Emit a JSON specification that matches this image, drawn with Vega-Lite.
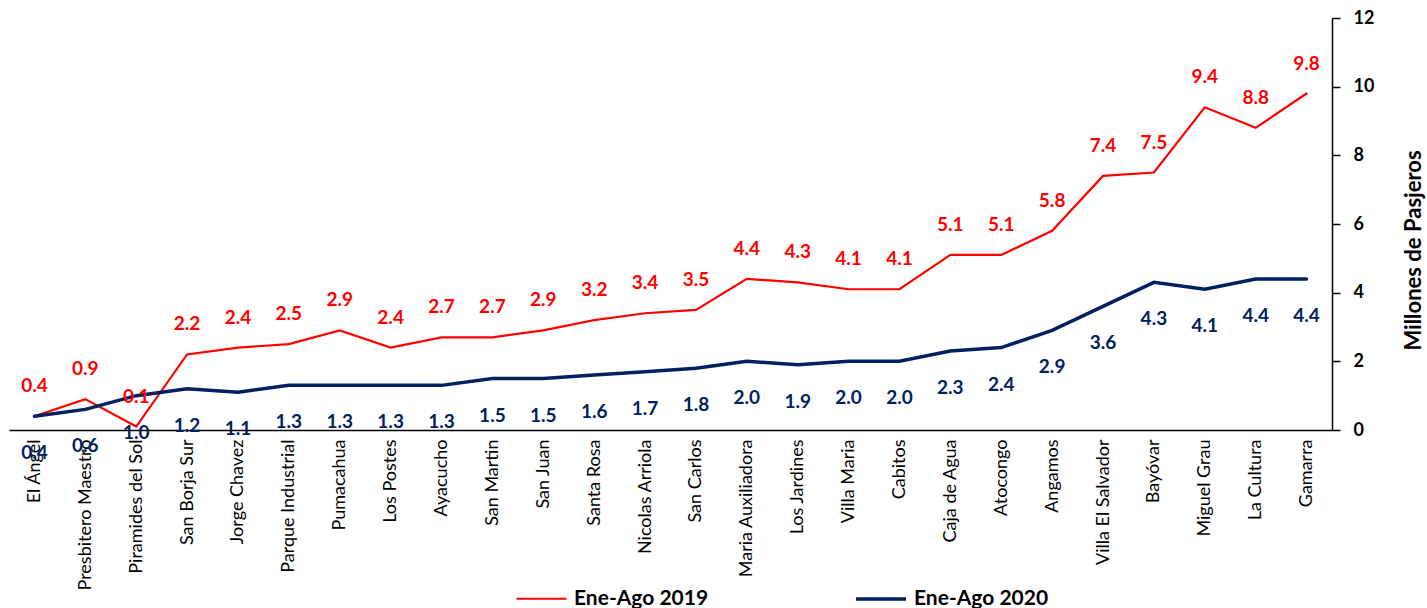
{
  "$schema": "https://vega.github.io/schema/vega-lite/v6.json",
  "width": 1323,
  "height": 412,
  "autosize": {"type": "none"},
  "padding": {"left": 9, "top": 18, "right": 95, "bottom": 178},
  "background": "white",
  "config": {
    "font": "Lato",
    "view": {"stroke": null},
    "axis": {"grid": false}
  },
  "data": {
    "values": [
      {"estacion": "El Ángel", "serie": "Ene-Ago 2019", "valor": 0.4},
      {"estacion": "Presbitero Maestro", "serie": "Ene-Ago 2019", "valor": 0.9},
      {"estacion": "Piramides del Sol", "serie": "Ene-Ago 2019", "valor": 0.1},
      {"estacion": "San Borja Sur", "serie": "Ene-Ago 2019", "valor": 2.2},
      {"estacion": "Jorge Chavez", "serie": "Ene-Ago 2019", "valor": 2.4},
      {"estacion": "Parque Industrial", "serie": "Ene-Ago 2019", "valor": 2.5},
      {"estacion": "Pumacahua", "serie": "Ene-Ago 2019", "valor": 2.9},
      {"estacion": "Los Postes", "serie": "Ene-Ago 2019", "valor": 2.4},
      {"estacion": "Ayacucho", "serie": "Ene-Ago 2019", "valor": 2.7},
      {"estacion": "San Martin", "serie": "Ene-Ago 2019", "valor": 2.7},
      {"estacion": "San Juan", "serie": "Ene-Ago 2019", "valor": 2.9},
      {"estacion": "Santa Rosa", "serie": "Ene-Ago 2019", "valor": 3.2},
      {"estacion": "Nicolas Arriola", "serie": "Ene-Ago 2019", "valor": 3.4},
      {"estacion": "San Carlos", "serie": "Ene-Ago 2019", "valor": 3.5},
      {"estacion": "Maria Auxiliadora", "serie": "Ene-Ago 2019", "valor": 4.4},
      {"estacion": "Los Jardines", "serie": "Ene-Ago 2019", "valor": 4.3},
      {"estacion": "Villa Maria", "serie": "Ene-Ago 2019", "valor": 4.1},
      {"estacion": "Cabitos", "serie": "Ene-Ago 2019", "valor": 4.1},
      {"estacion": "Caja de Agua", "serie": "Ene-Ago 2019", "valor": 5.1},
      {"estacion": "Atocongo", "serie": "Ene-Ago 2019", "valor": 5.1},
      {"estacion": "Angamos", "serie": "Ene-Ago 2019", "valor": 5.8},
      {"estacion": "Villa El Salvador", "serie": "Ene-Ago 2019", "valor": 7.4},
      {"estacion": "Bayóvar", "serie": "Ene-Ago 2019", "valor": 7.5},
      {"estacion": "Miguel Grau", "serie": "Ene-Ago 2019", "valor": 9.4},
      {"estacion": "La Cultura", "serie": "Ene-Ago 2019", "valor": 8.8},
      {"estacion": "Gamarra", "serie": "Ene-Ago 2019", "valor": 9.8},
      {"estacion": "El Ángel", "serie": "Ene-Ago 2020", "valor": 0.4},
      {"estacion": "Presbitero Maestro", "serie": "Ene-Ago 2020", "valor": 0.6},
      {"estacion": "Piramides del Sol", "serie": "Ene-Ago 2020", "valor": 1.0},
      {"estacion": "San Borja Sur", "serie": "Ene-Ago 2020", "valor": 1.2},
      {"estacion": "Jorge Chavez", "serie": "Ene-Ago 2020", "valor": 1.1},
      {"estacion": "Parque Industrial", "serie": "Ene-Ago 2020", "valor": 1.3},
      {"estacion": "Pumacahua", "serie": "Ene-Ago 2020", "valor": 1.3},
      {"estacion": "Los Postes", "serie": "Ene-Ago 2020", "valor": 1.3},
      {"estacion": "Ayacucho", "serie": "Ene-Ago 2020", "valor": 1.3},
      {"estacion": "San Martin", "serie": "Ene-Ago 2020", "valor": 1.5},
      {"estacion": "San Juan", "serie": "Ene-Ago 2020", "valor": 1.5},
      {"estacion": "Santa Rosa", "serie": "Ene-Ago 2020", "valor": 1.6},
      {"estacion": "Nicolas Arriola", "serie": "Ene-Ago 2020", "valor": 1.7},
      {"estacion": "San Carlos", "serie": "Ene-Ago 2020", "valor": 1.8},
      {"estacion": "Maria Auxiliadora", "serie": "Ene-Ago 2020", "valor": 2.0},
      {"estacion": "Los Jardines", "serie": "Ene-Ago 2020", "valor": 1.9},
      {"estacion": "Villa Maria", "serie": "Ene-Ago 2020", "valor": 2.0},
      {"estacion": "Cabitos", "serie": "Ene-Ago 2020", "valor": 2.0},
      {"estacion": "Caja de Agua", "serie": "Ene-Ago 2020", "valor": 2.3},
      {"estacion": "Atocongo", "serie": "Ene-Ago 2020", "valor": 2.4},
      {"estacion": "Angamos", "serie": "Ene-Ago 2020", "valor": 2.9},
      {"estacion": "Villa El Salvador", "serie": "Ene-Ago 2020", "valor": 3.6},
      {"estacion": "Bayóvar", "serie": "Ene-Ago 2020", "valor": 4.3},
      {"estacion": "Miguel Grau", "serie": "Ene-Ago 2020", "valor": 4.1},
      {"estacion": "La Cultura", "serie": "Ene-Ago 2020", "valor": 4.4},
      {"estacion": "Gamarra", "serie": "Ene-Ago 2020", "valor": 4.4}
    ]
  },
  "encoding": {
    "x": {
      "field": "estacion",
      "type": "nominal",
      "sort": null,
      "scale": {"type": "point", "padding": 0.5},
      "axis": {
        "title": null,
        "labelAngle": -90,
        "labelFontSize": 18,
        "labelColor": "black",
        "labelPadding": 9,
        "ticks": false,
        "domainColor": "black",
        "domainWidth": 1.5,
        "labelLimit": 300
      }
    },
    "y": {
      "field": "valor",
      "type": "quantitative",
      "scale": {"domain": [0, 12], "nice": false},
      "axis": {
        "orient": "right",
        "values": [0, 2, 4, 6, 8, 10, 12],
        "title": "Millones de Pasjeros",
        "titleFontSize": 22,
        "titleFontWeight": "bold",
        "titleColor": "black",
        "titleAngle": 270,
        "titlePadding": 52,
        "titleY": 232,
        "labelFontSize": 18,
        "labelFontWeight": "bold",
        "labelColor": "black",
        "labelPadding": 13,
        "tickSize": 8,
        "tickColor": "black",
        "tickWidth": 1.5,
        "domainColor": "black",
        "domainWidth": 1.5
      }
    }
  },
  "layer": [
    {
      "mark": {"type": "line", "strokeCap": "round"},
      "encoding": {
        "color": {
          "field": "serie",
          "type": "nominal",
          "scale": {"domain": ["Ene-Ago 2019", "Ene-Ago 2020"], "range": ["#FF0000", "#002060"]},
          "legend": {
            "title": null,
            "orient": "none",
            "direction": "horizontal",
            "legendX": 506,
            "legendY": 554,
            "symbolType": "stroke",
            "symbolSize": 2500,
            "symbolStrokeWidth": 3,
            "labelFontSize": 21,
            "labelFontWeight": "bold",
            "labelColor": "black",
            "columnPadding": 140,
            "labelOffset": 6
          }
        },
        "strokeWidth": {
          "field": "serie",
          "type": "nominal",
          "scale": {"domain": ["Ene-Ago 2019", "Ene-Ago 2020"], "range": [2.2, 3.5]},
          "legend": null
        }
      }
    },
    {
      "transform": [{"filter": "datum.serie === 'Ene-Ago 2019'"}],
      "mark": {"type": "text", "dy": -30, "fontSize": 19, "fontWeight": "bold", "color": "#FF0000"},
      "encoding": {"text": {"field": "valor", "type": "quantitative", "format": ".1f"}}
    },
    {
      "transform": [{"filter": "datum.serie === 'Ene-Ago 2020'"}],
      "mark": {"type": "text", "dy": 37, "fontSize": 19, "fontWeight": "bold", "color": "#002060"},
      "encoding": {"text": {"field": "valor", "type": "quantitative", "format": ".1f"}}
    }
  ]
}
